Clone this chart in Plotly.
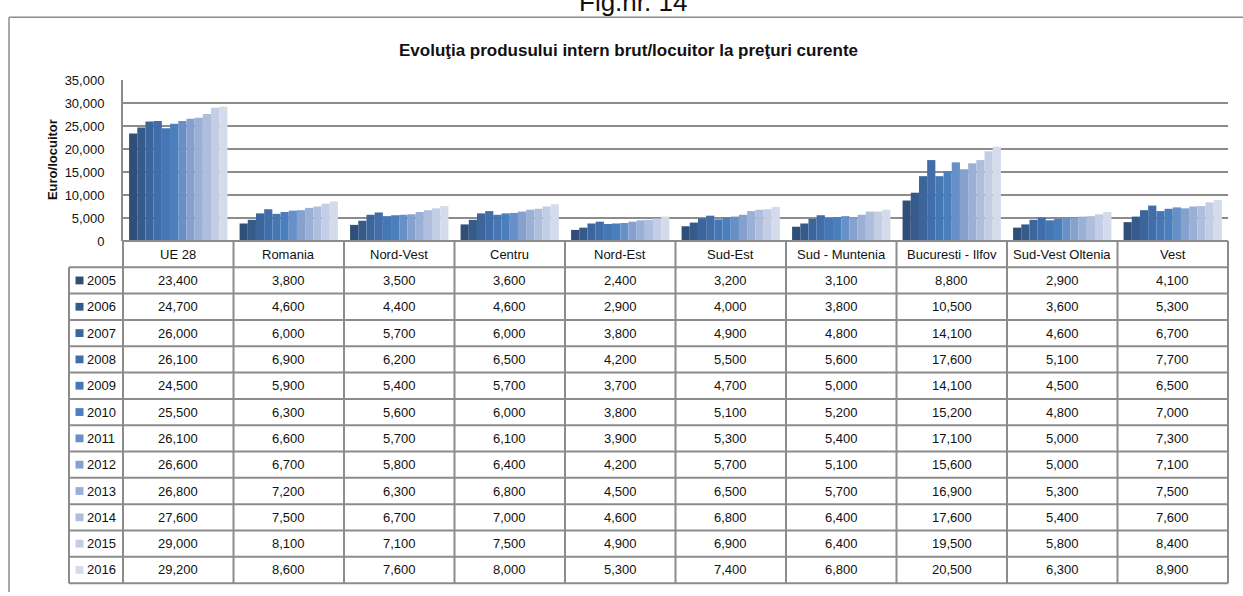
import plotly.graph_objects as go

# ---------------- data ----------------
categories = ["UE 28", "Romania", "Nord-Vest", "Centru", "Nord-Est", "Sud-Est",
              "Sud - Muntenia", "Bucuresti - Ilfov", "Sud-Vest Oltenia", "Vest"]
years = ["2005", "2006", "2007", "2008", "2009", "2010",
         "2011", "2012", "2013", "2014", "2015", "2016"]

v2005 = [23400, 3800, 3500, 3600, 2400, 3200, 3100, 8800, 2900, 4100]
v2006 = [24700, 4600, 4400, 4600, 2900, 4000, 3800, 10500, 3600, 5300]
v2007 = [26000, 6000, 5700, 6000, 3800, 4900, 4800, 14100, 4600, 6700]
v2008 = [26100, 6900, 6200, 6500, 4200, 5500, 5600, 17600, 5100, 7700]
v2009 = [24500, 5900, 5400, 5700, 3700, 4700, 5000, 14100, 4500, 6500]
v2010 = [25500, 6300, 5600, 6000, 3800, 5100, 5200, 15200, 4800, 7000]
v2011 = [26100, 6600, 5700, 6100, 3900, 5300, 5400, 17100, 5000, 7300]
v2012 = [26600, 6700, 5800, 6400, 4200, 5700, 5100, 15600, 5000, 7100]
v2013 = [26800, 7200, 6300, 6800, 4500, 6500, 5700, 16900, 5300, 7500]
v2014 = [27600, 7500, 6700, 7000, 4600, 6800, 6400, 17600, 5400, 7600]
v2015 = [29000, 8100, 7100, 7500, 4900, 6900, 6400, 19500, 5800, 8400]
v2016 = [29200, 8600, 7600, 8000, 5300, 7400, 6800, 20500, 6300, 8900]

series = [v2005, v2006, v2007, v2008, v2009, v2010,
          v2011, v2012, v2013, v2014, v2015, v2016]

colors = ["#2F4F78", "#365B8B", "#3C659C", "#416EAA", "#4677B5", "#4B7EBD",
          "#6690C7", "#86A1CD", "#9BB0D6", "#AFBEDD", "#C3CEE6", "#D4DBEB"]

title = "<b>Evoluţia produsului intern brut/locuitor la preţuri curente</b>"
fig_label = "Fig.nr. 14"
y_title = "<b>Euro/locuitor</b>"

# ---------------- layout helpers ----------------
W, H = 1243, 596
def px(x):                   # page pixel -> paper
    return x / W
def py(y):
    return 1 - y / H

FONT = "Liberation Sans, Arial, sans-serif"
LINE = "#8C8C8C"
TXT = "#111111"

plot_left, plot_right = 123, 1228
plot_top, plot_bottom = 75, 240
row_top = 267
row_h = 27.0
legend_left = 69

fig = go.Figure()
for yr, vals, c in zip(years, series, colors):
    fig.add_trace(go.Bar(x=categories, y=vals, name=yr, marker_color=c,
                         marker_line_width=0, showlegend=False))

shapes = []
annotations = []

# outer frame
shapes.append(dict(type="line", xref="paper", yref="paper",
                   x0=px(9), x1=px(1250), y0=py(10.5), y1=py(10.5),
                   line=dict(color=LINE, width=1.5)))
shapes.append(dict(type="line", xref="paper", yref="paper",
                   x0=px(9), x1=px(9), y0=py(10.5), y1=py(600),
                   line=dict(color=LINE, width=1.5)))

# table: horizontal lines
shapes.append(dict(type="line", xref="paper", yref="paper",
                   x0=px(plot_left), x1=px(plot_right), y0=py(plot_bottom), y1=py(plot_bottom),
                   line=dict(color=LINE, width=2)))
n_rows = len(years)
for i in range(n_rows + 1):
    yy = row_top + i * row_h
    shapes.append(dict(type="line", xref="paper", yref="paper",
                       x0=px(legend_left), x1=px(plot_right), y0=py(yy), y1=py(yy),
                       line=dict(color=LINE, width=2)))
table_bottom = row_top + n_rows * row_h
# vertical lines
col_w = (plot_right - plot_left) / len(categories)
for k in range(len(categories) + 1):
    xx = plot_left + k * col_w
    shapes.append(dict(type="line", xref="paper", yref="paper",
                       x0=px(xx), x1=px(xx), y0=py(plot_bottom), y1=py(table_bottom),
                       line=dict(color=LINE, width=2)))
shapes.append(dict(type="line", xref="paper", yref="paper",
                   x0=px(legend_left), x1=px(legend_left), y0=py(row_top), y1=py(table_bottom),
                   line=dict(color=LINE, width=2)))

# header labels
for cat in categories:
    annotations.append(dict(x=cat, xref="x", y=py((plot_bottom + row_top) / 2 + 0.5), yref="paper",
                            text=cat, showarrow=False, xanchor="center", yanchor="middle",
                            font=dict(family=FONT, size=13, color=TXT)))

# rows
for i, (yr, vals, c) in enumerate(zip(years, series, colors)):
    yc = row_top + i * row_h + row_h / 2
    shapes.append(dict(type="rect", xref="paper", yref="paper",
                       x0=px(75.5), x1=px(83.5), y0=py(yc - 4), y1=py(yc + 4),
                       fillcolor=c, line=dict(width=0)))
    annotations.append(dict(x=px(85), xref="paper", y=py(yc), yref="paper",
                            text=yr, showarrow=False, xanchor="left", yanchor="middle",
                            font=dict(family=FONT, size=13, color=TXT)))
    for cat, v in zip(categories, vals):
        annotations.append(dict(x=cat, xref="x", y=py(yc), yref="paper",
                                text=f"{v:,}", showarrow=False, xanchor="center",
                                yanchor="middle",
                                font=dict(family=FONT, size=13, color=TXT)))

# title, fig label, y title
annotations.append(dict(x=px(628), y=py(45), xref="paper", yref="paper", text=title,
                        showarrow=False, xanchor="center", yanchor="middle",
                        font=dict(family=FONT, size=17, color=TXT)))
annotations.append(dict(x=px(633), y=py(-5), xref="paper", yref="paper", text=fig_label,
                        showarrow=False, xanchor="center", yanchor="middle",
                        font=dict(family=FONT, size=26, color=TXT)))
annotations.append(dict(x=px(52), y=py(157), xref="paper",
                        yref="paper", text=y_title, textangle=-90, showarrow=False,
                        xanchor="center", yanchor="middle",
                        font=dict(family=FONT, size=13, color=TXT)))

fig.update_layout(
    width=W, height=H,
    margin=dict(l=0, r=0, t=0, b=0),
    paper_bgcolor="white", plot_bgcolor="white",
    barmode="group", bargap=0.11, bargroupgap=0,
    shapes=shapes, annotations=annotations,
    xaxis=dict(domain=[px(plot_left), px(plot_right)], showticklabels=False,
               showgrid=False, zeroline=False, showline=False, fixedrange=True),
    yaxis=dict(domain=[py(plot_bottom), py(plot_top)], range=[0, 35000], dtick=5000,
               tickformat=",", showgrid=True, gridcolor=LINE, gridwidth=2,
               zeroline=False, showline=True, linecolor=LINE, linewidth=2,
               ticks="", ticklabelstandoff=14,
               tickfont=dict(family=FONT, size=13, color=TXT)),
)

fig.write_html("out.html", config={"displayModeBar": False},
               post_script="document.body.style.margin='0';document.body.style.overflow='hidden';")
